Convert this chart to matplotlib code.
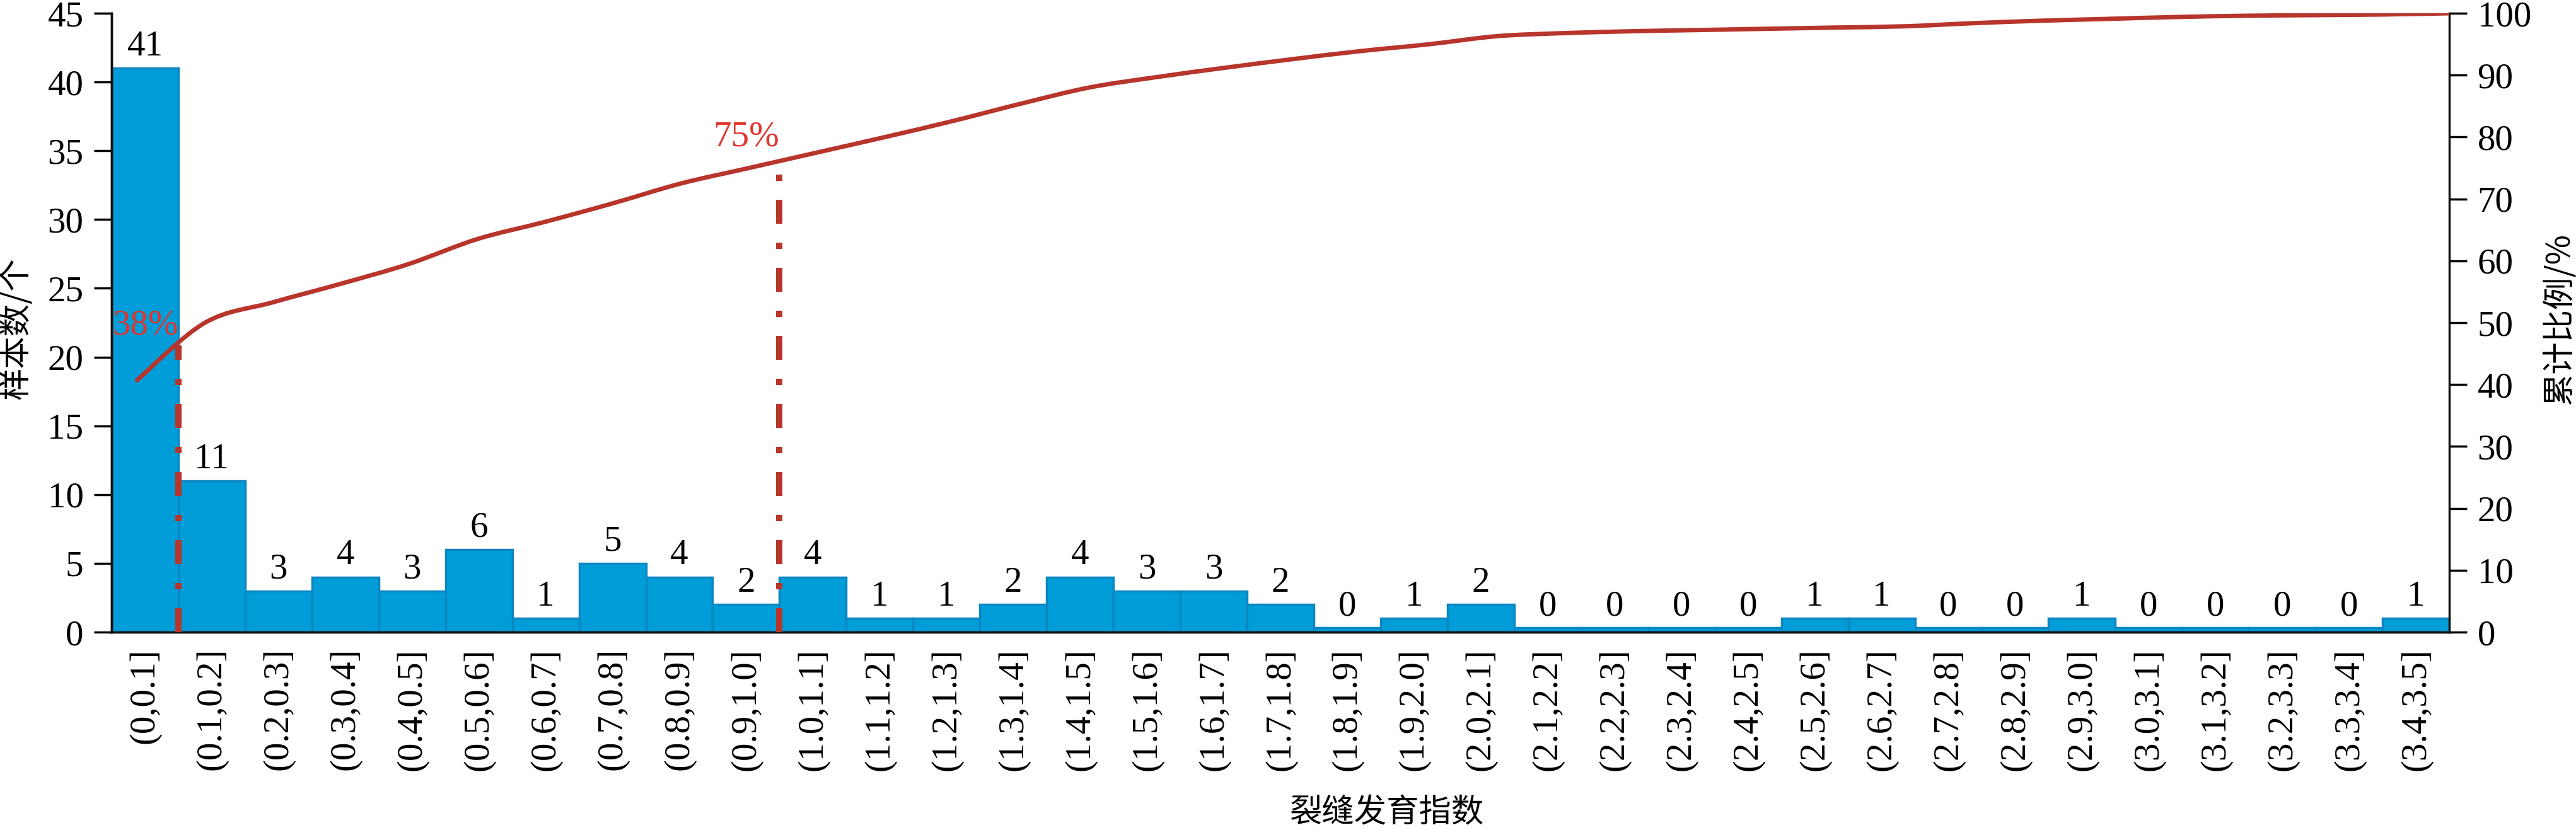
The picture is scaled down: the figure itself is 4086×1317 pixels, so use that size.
import numpy as np
import matplotlib
matplotlib.use('Agg')
import matplotlib.pyplot as plt
from matplotlib.path import Path
from matplotlib.patches import PathPatch

# ---- data ----
intervals = ['(0,0.1]', '(0.1,0.2]', '(0.2,0.3]', '(0.3,0.4]', '(0.4,0.5]',
             '(0.5,0.6]', '(0.6,0.7]', '(0.7,0.8]', '(0.8,0.9]', '(0.9,1.0]',
             '(1.0,1.1]', '(1.1,1.2]', '(1.2,1.3]', '(1.3,1.4]', '(1.4,1.5]',
             '(1.5,1.6]', '(1.6,1.7]', '(1.7,1.8]', '(1.8,1.9]', '(1.9,2.0]',
             '(2.0,2.1]', '(2.1,2.2]', '(2.2,2.3]', '(2.3,2.4]', '(2.4,2.5]',
             '(2.5,2.6]', '(2.6,2.7]', '(2.7,2.8]', '(2.8,2.9]', '(2.9,3.0]',
             '(3.0,3.1]', '(3.1,3.2]', '(3.2,3.3]', '(3.3,3.4]', '(3.4,3.5]']
counts = [41, 11, 3, 4, 3, 6, 1, 5, 4, 2,
          4, 1, 1, 2, 4, 3, 3, 2, 0, 1,
          2, 0, 0, 0, 0, 1, 1, 0, 0, 1,
          0, 0, 0, 0, 1]
cum_pct = [40.7, 50.0, 53.3, 56.3, 59.5, 63.5, 66.3, 69.3, 72.5, 75.0,
           77.5, 80.0, 82.6, 85.4, 88.0, 89.7, 91.2, 92.6, 93.9, 95.0,
           96.3, 96.8, 97.1, 97.3, 97.5, 97.7, 97.9, 98.4, 98.8, 99.1,
           99.4, 99.6, 99.7, 99.8, 100.0]
mark_text = ['38%', '75%']
mark_bin = [0, 9]          # last interval included in the marked share
mark_top = [46.3, 75.0]    # height of the dash-dot guide (right axis, %)
mark_label_y = [49.5, 80.0]

bar_color = '#009DD9'
bar_edge = '#0C86C2'
line_color = '#B8352C'
text_red = '#E0342C'
serif = ['Liberation Serif', 'DejaVu Serif']
cjk = ['Noto Sans CJK SC', 'DejaVu Sans']
fs = 41


def smooth_path(x, y, t=1.0 / 6):
    # Catmull-Rom style bezier through the points (like a spreadsheet "smoothed line")
    x = np.asarray(x, float)
    y = np.asarray(y, float)
    n = len(x)
    verts = [(x[0], y[0])]
    codes = [Path.MOVETO]
    for i in range(n - 1):
        xp, yp = (x[i - 1], y[i - 1]) if i > 0 else (x[i], y[i])
        xn, yn = (x[i + 2], y[i + 2]) if i + 2 < n else (x[i + 1], y[i + 1])
        c1 = (x[i] + (x[i + 1] - xp) * t, y[i] + (y[i + 1] - yp) * t)
        c2 = (x[i + 1] - (xn - x[i]) * t, y[i + 1] - (yn - y[i]) * t)
        verts += [c1, c2, (x[i + 1], y[i + 1])]
        codes += [Path.CURVE4] * 3
    return Path(verts, codes)


fig = plt.figure(figsize=(40.87, 13.17), dpi=100)
ax = fig.add_axes([0.0433, 0.2384, 0.9073, 0.7456])
ax2 = ax.twinx()

counts = np.array(counts)
xpos = np.arange(len(counts))
shown = np.where(counts == 0, 0.3, counts)   # empty classes still drawn as a thin strip
ax.bar(xpos, shown, width=1.0, color=bar_color, edgecolor=bar_edge, linewidth=2.5, zorder=2)
for xi, h, c in zip(xpos, shown, counts):
    ax.annotate(str(c), (xi, h), xytext=(0, 6), textcoords='offset points',
                ha='center', va='bottom', fontsize=fs, family=serif, color='black')

ax.set_xlim(-0.5, len(counts) - 0.5)
ax.set_ylim(0, 45)
ax.set_yticks(np.arange(0, 46, 5))
ax.set_xticks(xpos)
ax.set_xticklabels(intervals, rotation=90, fontsize=fs, family=serif)
ax.tick_params(axis='x', length=0, pad=18)
ax.tick_params(axis='y', length=20, width=2.5, pad=12, labelsize=fs, direction='out')
for lab in ax.get_yticklabels():
    lab.set_family(serif)

ax2.set_ylim(0, 100)
ax2.set_yticks(np.arange(0, 101, 10))
ax2.tick_params(axis='y', length=20, width=2.5, pad=12, labelsize=fs, direction='out')
for lab in ax2.get_yticklabels():
    lab.set_family(serif)

for a in (ax, ax2):
    a.spines['top'].set_visible(False)
    for s in ('left', 'right', 'bottom'):
        a.spines[s].set_linewidth(2.5)
        a.spines[s].set_color('#111111')
ax.spines['right'].set_visible(False)

# cumulative share curve
line_x = np.linspace(-0.12, len(counts) - 0.5, len(cum_pct))
ax2.add_patch(PathPatch(smooth_path(line_x, cum_pct), fill=False,
                        edgecolor=line_color, linewidth=5, capstyle='round', zorder=4))

# dash-dot guides and share labels
for txt, b, top, ly in zip(mark_text, mark_bin, mark_top, mark_label_y):
    gx = b + 0.5
    ax2.plot([gx, gx], [0, top], color=line_color, linewidth=7.2,
             dashes=(3.8, 3.0, 1.0, 3.0), solid_capstyle='butt',
             dash_capstyle='butt', zorder=3)
    ax2.text(b, ly, txt, ha='center', va='center', fontsize=fs,
             family=serif, color=text_red, zorder=5)

fig.text(0.0062, 0.6044, '样本数/个', rotation=90, ha='center', va='center',
         fontsize=37, family=cjk)
fig.text(0.9932, 0.6158, '累计比例/%', rotation=90, ha='center', va='center',
         fontsize=37, family=cjk)
fig.text(0.538, 0.021, '裂缝发育指数', ha='center', va='center',
         fontsize=37, family=cjk)

plt.savefig('out.png', dpi=100)
plt.close()
